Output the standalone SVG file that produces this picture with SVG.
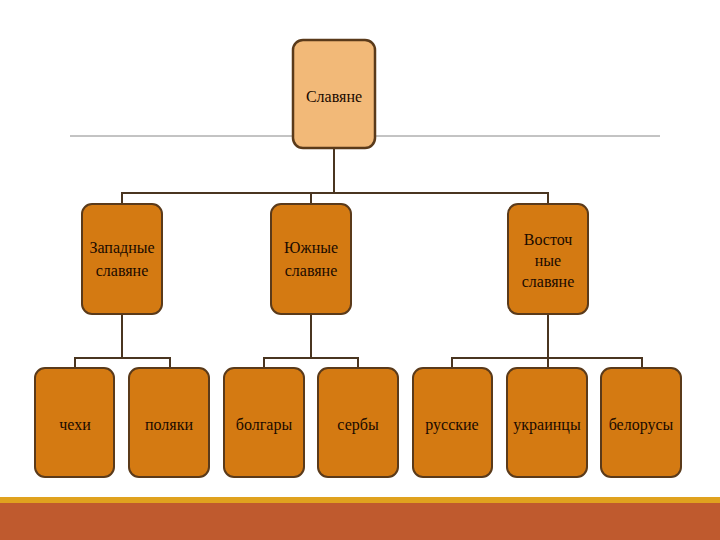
<svg xmlns="http://www.w3.org/2000/svg" width="720" height="540" viewBox="0 0 720 540">
<style>
.b{fill:#D47A12;stroke:#5A3A1A;stroke-width:2}
.t{fill:#F2B978;stroke:#5A3A1A;stroke-width:2.5}
text{font-family:"Liberation Serif",serif;font-size:16px;fill:#1A0A00;text-anchor:middle}
.c{stroke:#4A3520;stroke-width:2;fill:none}
</style>
<rect width="720" height="540" fill="#fff"/>
<line x1="70" y1="136" x2="660" y2="136" stroke="#888" stroke-width="1"/>
<g id="connectors">
<path class="c" d="M334 148V193M122 204V193H548V204M311 193V204"/>
<path class="c" d="M122 314V358M75 368V358H170V368"/>
<path class="c" d="M311 314V358M264 368V358H358V368"/>
<path class="c" d="M548 314V368M452 368V358H642V368"/>
</g>
<g id="n0"><rect class="t" x="293" y="40" width="82" height="108" rx="10"/><text x="334" y="102">Славяне</text></g>
<g id="n1"><rect class="b" x="82" y="204" width="80" height="110" rx="10"/><text x="122" y="253">Западные</text><text x="122" y="276">славяне</text></g>
<g id="n2"><rect class="b" x="271" y="204" width="80" height="110" rx="10"/><text x="311" y="253">Южные</text><text x="311" y="276">славяне</text></g>
<g id="n3"><rect class="b" x="508" y="204" width="80" height="110" rx="10"/><text x="548" y="245">Восточ</text><text x="548" y="266">ные</text><text x="548" y="287">славяне</text></g>
<g id="n4"><rect class="b" x="35" y="368" width="79" height="109" rx="10"/><text x="75" y="430">чехи</text></g>
<g id="n5"><rect class="b" x="129" y="368" width="80" height="109" rx="10"/><text x="169" y="430">поляки</text></g>
<g id="n6"><rect class="b" x="224" y="368" width="80" height="109" rx="10"/><text x="264" y="430">болгары</text></g>
<g id="n7"><rect class="b" x="318" y="368" width="80" height="109" rx="10"/><text x="358" y="430">сербы</text></g>
<g id="n8"><rect class="b" x="413" y="368" width="79" height="109" rx="10"/><text x="452" y="430">русские</text></g>
<g id="n9"><rect class="b" x="507" y="368" width="80" height="109" rx="10"/><text x="547" y="430">украинцы</text></g>
<g id="n10"><rect class="b" x="601" y="368" width="80" height="109" rx="10"/><text x="641" y="430">белорусы</text></g>
<rect x="0" y="497" width="720" height="6" fill="#E0A21E"/>
<rect x="0" y="503" width="720" height="37" fill="#BF5A2E"/>
</svg>
